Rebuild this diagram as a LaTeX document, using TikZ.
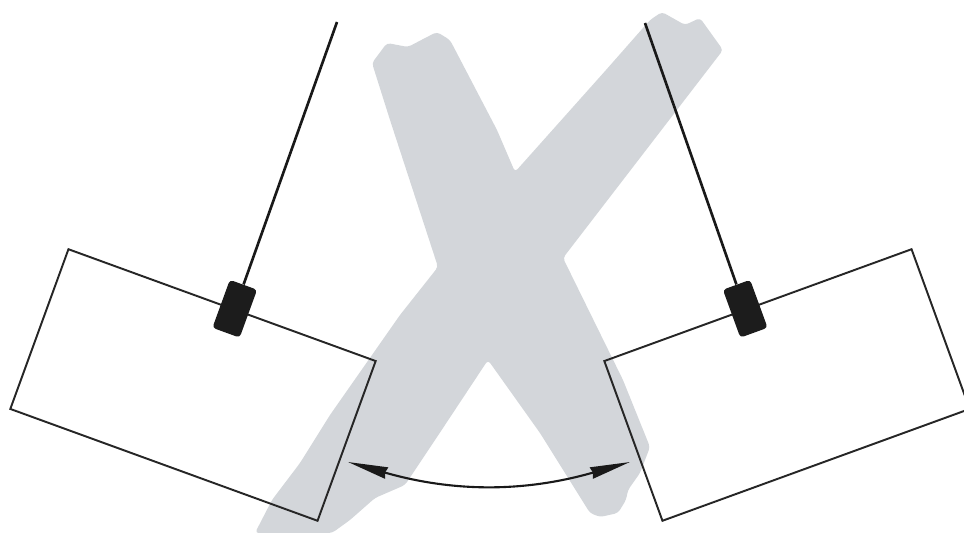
\documentclass[tikz,border=0pt]{standalone}
\usepackage{tikz}
\usetikzlibrary{arrows.meta, calc}
\definecolor{crossgrey}{HTML}{D3D6DA}
\definecolor{clipblack}{HTML}{1C1C1C}
\tikzset{
	panel/.style={draw=black!85, line width=1.1pt, minimum width=6.54cm,
		minimum height=3.4cm, inner sep=0pt},
	holder/.style={fill=clipblack, rounded corners=2pt, minimum width=0.58cm,
		minimum height=1.02cm, inner sep=0pt},
	wire/.style={line width=1.5pt, black!90},
	swing/.style={{Stealth[length=8mm, width=2.3mm, inset=0.3mm]}-{Stealth[length=8mm, width=2.3mm, inset=0.3mm]},
		line width=1.2pt, black!90},
}

\begin{document}
\begin{tikzpicture}[x=0.02cm, y=-0.02cm]
	\useasboundingbox (0,0) rectangle (964,533);
	% the big grey cross behind everything
	\fill[crossgrey, rounded corners=2pt] (372,63) -- (387,43) -- (408,47) -- (427,37) -- (437,32) -- (450,40)
		-- (497,130) -- (515,172)
		-- (606,70) -- (650,20) -- (662,12) -- (685,25) -- (700,18) -- (723,50)
		-- (563,258) -- (623,380) -- (650,447) -- (640,473) -- (628,490) -- (626,500) -- (618,513) -- (600,517) -- (590,513)
		-- (540,433) -- (488,360)
		-- (445,425) -- (405,485) -- (375,498) -- (350,520) -- (332,533) -- (255,533)
		-- (272,500) -- (300,463) -- (330,415) -- (365,365) -- (400,315) -- (438,267)
		-- (390,120) -- cycle;
	% two boards
	\node[panel, rotate=-20] (lbox) at (193,385) {};
	\node[panel, rotate=20] (rbox) at (787,385) {};
	% clips on the top edges
	\node[holder, rotate=-20] (lclip) at ($(lbox.north west)!0.54!(lbox.north east)$) {};
	\node[holder, rotate=20] (rclip) at ($(rbox.north west)!0.46!(rbox.north east)$) {};
	\coordinate (ltop) at (337,22);
	\coordinate (rtop) at (645,23);
	\draw[wire] (ltop) -- (lclip.north);
	\draw[wire] (rtop) -- (rclip.north);
	% swing between the boards
	\coordinate (lswing) at (348,462);
	\coordinate (rswing) at (630,462);
	\draw[swing] (lswing) to[bend right=16] (rswing);
\end{tikzpicture}
\end{document}
